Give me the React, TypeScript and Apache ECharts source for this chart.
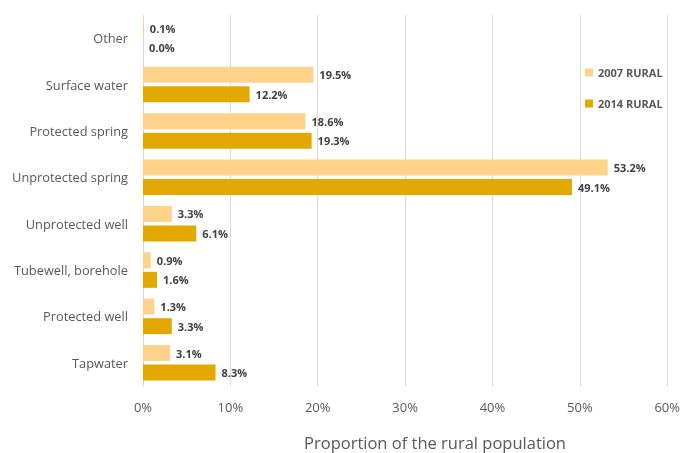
import React, { useEffect, useRef } from "react";
import * as echarts from "echarts";

const categories = [
  "Other",
  "Surface water",
  "Protected spring",
  "Unprotected spring",
  "Unprotected well",
  "Tubewell, borehole",
  "Protected well",
  "Tapwater",
];
const rural2007 = [0.1, 19.5, 18.6, 53.2, 3.3, 0.9, 1.3, 3.1];
const rural2014 = [0.0, 12.2, 19.3, 49.1, 6.1, 1.6, 3.3, 8.3];
const xTicks = [0, 10, 20, 30, 40, 50, 60];
const axisTitle = "Proportion of the rural population";

const FONT = "'Open Sans', 'Noto Sans', sans-serif";

export default function App() {
  const ref = useRef<HTMLDivElement>(null);
  useEffect(() => {
    if (!ref.current) return;
    const chart = echarts.init(ref.current, null, { renderer: "svg" });
    const label = {
      show: true,
      position: "right" as const,
      distance: 6,
      formatter: (p: any) => p.value.toFixed(1) + "%",
      color: "#404040",
      fontWeight: "bold" as const,
      fontSize: 11,
      fontFamily: FONT,
    };
    chart.setOption({
      animation: false,
      textStyle: { fontFamily: FONT },
      grid: { left: 143, right: 15, top: 15, bottom: 67, containLabel: false },
      legend: {
        orient: "vertical",
        left: 580,
        top: 62,
        itemWidth: 8,
        itemHeight: 8,
        itemGap: 20,
        icon: "rect",
        textStyle: { color: "#595959", fontWeight: "bold", fontSize: 11, fontFamily: FONT },
        data: ["2007 RURAL", "2014 RURAL"],
      },
      graphic: [
        {
          type: "text",
          x: 435,
          y: 442,
          style: {
            text: axisTitle,
            align: "center",
            verticalAlign: "middle",
            fill: "#595959",
            fontSize: 16.5,
            fontFamily: FONT,
          },
        },
      ],
      xAxis: {
        type: "value",
        min: xTicks[0],
        max: xTicks[xTicks.length - 1],
        interval: 10,
        axisLabel: {
          formatter: (v: number) => v + "%",
          color: "#595959",
          fontSize: 13,
          margin: 14,
          fontFamily: FONT,
        },
        axisLine: { show: false },
        axisTick: { show: false },
        splitLine: { show: true, lineStyle: { color: "#d9d9d9", width: 1 } },
      },
      yAxis: {
        type: "category",
        inverse: true,
        data: categories,
        axisLine: { show: true, lineStyle: { color: "#d9d9d9" } },
        axisTick: { show: false },
        axisLabel: { color: "#595959", fontSize: 12.8, margin: 15, fontFamily: FONT },
      },
      series: [
        {
          name: "2007 RURAL",
          type: "bar",
          data: rural2007,
          barWidth: 16,
          barGap: "22%",
          itemStyle: { color: "#FFD28A" },
          label,
        },
        {
          name: "2014 RURAL",
          type: "bar",
          data: rural2014,
          barWidth: 16,
          barGap: "22%",
          itemStyle: { color: "#E3A800" },
          label,
        },
      ],
    });
    return () => chart.dispose();
  }, []);
  return (
    <div
      ref={ref}
      style={{ position: "fixed", left: 0, top: 0, width: 683, height: 453 }}
    />
  );
}
